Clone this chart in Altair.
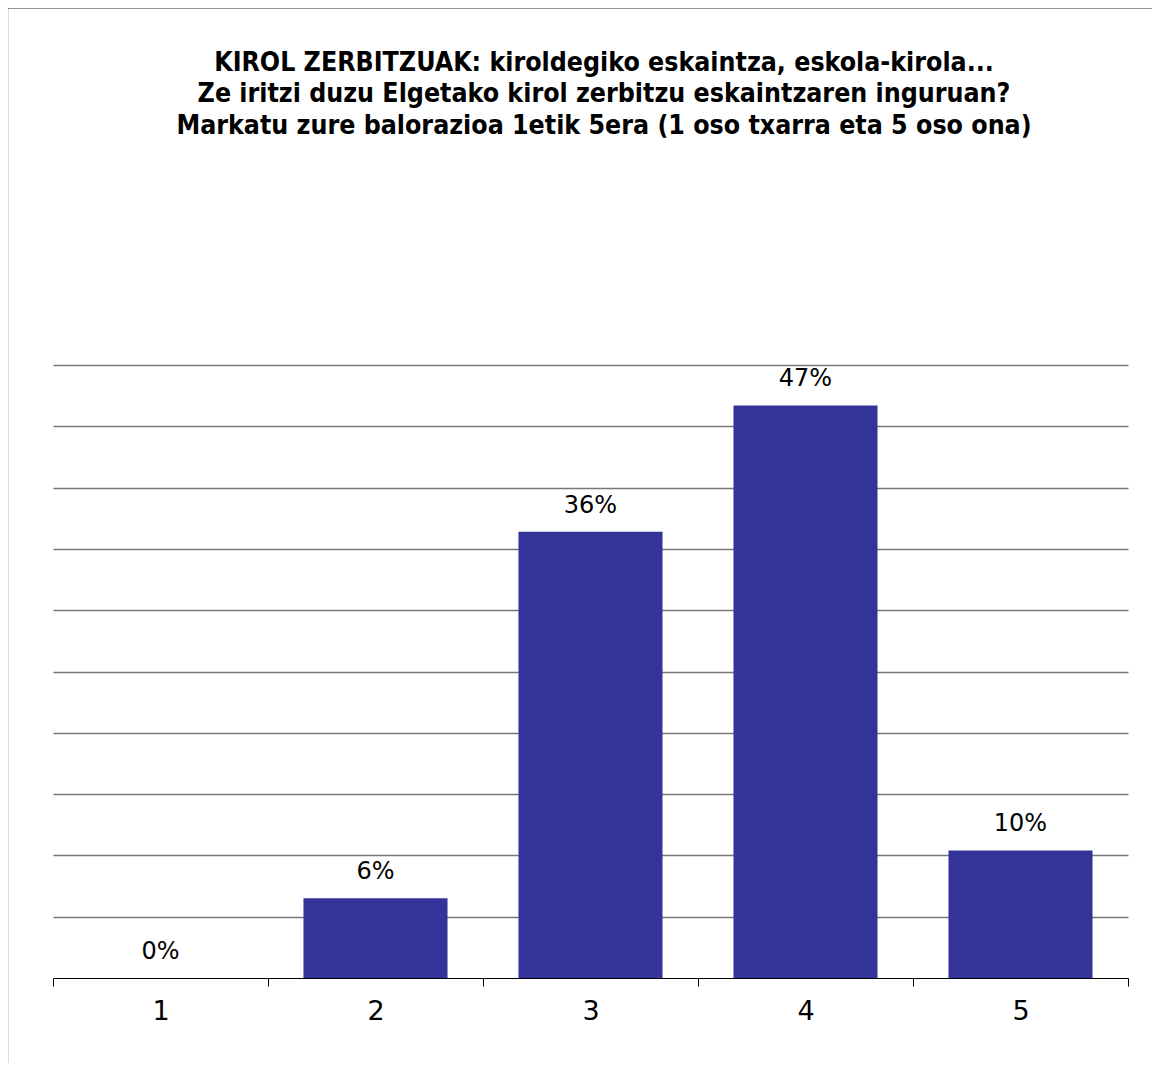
import altair as alt
import pandas as pd

categories = ["1", "2", "3", "4", "5"]
values = [0.0, 6.5, 36.4, 46.7, 10.4]
labels = ["0%", "6%", "36%", "47%", "10%"]
title_lines = [
    "KIROL ZERBITZUAK: kiroldegiko eskaintza, eskola-kirola...",
    "Ze iritzi duzu Elgetako kirol zerbitzu eskaintzaren inguruan?",
    "Markatu zure balorazioa 1etik 5era (1 oso txarra eta 5 oso ona)",
]

df = pd.DataFrame({"cat": categories, "val": values, "lab": labels})

FONT = "DejaVu Sans"

x = alt.X(
    "cat:N",
    sort=categories,
    scale=alt.Scale(paddingInner=0, paddingOuter=0),
    axis=alt.Axis(
        title=None, labelAngle=0, labelFontSize=27, labelFont=FONT,
        labelColor="#000000", tickBand="extent", tickSize=8, tickColor="#000000",
        domainColor="#000000", labelPadding=12, grid=False,
    ),
)
y = alt.Y(
    "val:Q",
    scale=alt.Scale(domain=[0, 50]),
    axis=alt.Axis(
        title=None, labels=False, ticks=False, domain=False,
        values=[5, 10, 15, 20, 25, 30, 35, 40, 45, 50],
        grid=True, gridColor="#777777", gridWidth=1.5,
    ),
)

base = alt.Chart(df)
bars = base.mark_bar(color="#333399", width=alt.RelativeBandSize(0.67)).encode(x=x, y=y)
text = base.mark_text(dy=-26, baseline="middle", fontSize=24, font=FONT, color="#000000").encode(
    x=alt.X("cat:N", sort=categories), y="val:Q", text="lab:N"
)

one = pd.DataFrame({"t": ["\n".join(title_lines)]})
title = alt.Chart(one).mark_text(
    font="DejaVu Sans Condensed", fontSize=26.5, fontWeight="bold", color="#000000",
    align="center", baseline="middle", lineBreak="\n", lineHeight=31.5,
).encode(x=alt.value(551), y=alt.value(-302.5), text="t:N")

frame_left = alt.Chart(one).mark_rule(color="#707070", strokeWidth=1.5, clip=False).encode(
    x=alt.value(-45.5), y=alt.value(-357), y2=alt.value(800)
)
frame_top = alt.Chart(one).mark_rule(color="#707070", strokeWidth=1.5, clip=False).encode(
    x=alt.value(-45.5), x2=alt.value(1200), y=alt.value(-357)
)

chart = alt.layer(bars, text, title, frame_left, frame_top).properties(
    width=1075,
    height=613,
    autosize=alt.AutoSizeParams(type="none"),
    padding={"left": 45, "top": 357, "right": 24, "bottom": 85},
).configure_view(stroke=None)

chart.save("out.html", embed_options={"renderer": "svg", "actions": False})
